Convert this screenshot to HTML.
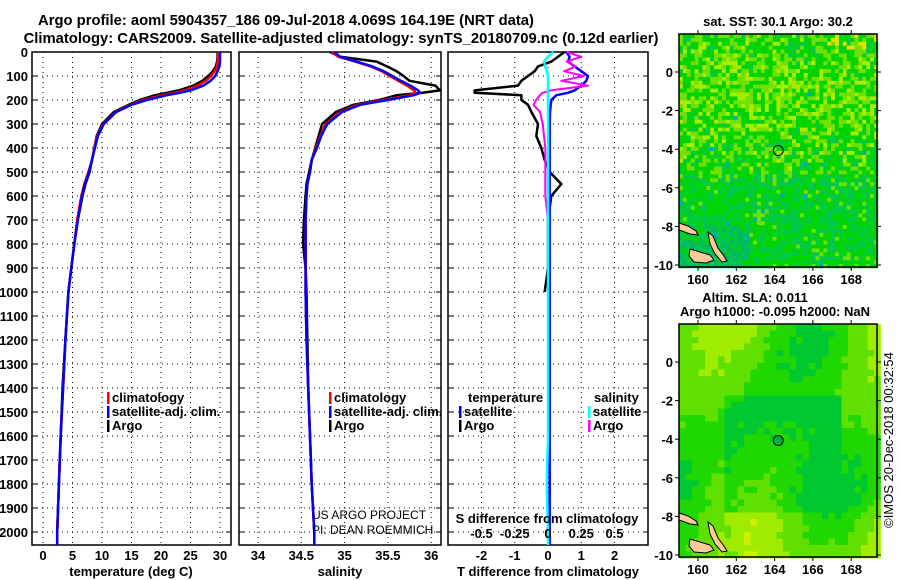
<!DOCTYPE html>
<html><head><meta charset="utf-8">
<style>
html,body{margin:0;padding:0;background:#fff;}
svg{display:block;}
text{font-family:"Liberation Sans",sans-serif;font-weight:bold;font-size:13px;fill:#000;}
</style></head>
<body>
<svg id="chart" width="900" height="580" viewBox="0 0 900 580" xmlns="http://www.w3.org/2000/svg">
<text x="286" y="25" text-anchor="middle" style="font-size:14.8px">Argo profile: aoml 5904357_186 09-Jul-2018 4.069S 164.19E (NRT data)</text>
<text x="341" y="43" text-anchor="middle" style="font-size:14.8px">Climatology: CARS2009. Satellite-adjusted climatology: synTS_20180709.nc (0.12d earlier)</text>
<g id="plots"></g>
<g id="maps"></g>
<text x="778" y="26" text-anchor="middle">sat. SST: 30.1 Argo: 30.2</text>
<text x="755" y="302" text-anchor="middle">Altim. SLA: 0.011</text>
<text x="775" y="316" text-anchor="middle">Argo h1000: -0.095 h2000: NaN</text>
<text transform="translate(893,440) rotate(-90)" text-anchor="middle" style="font-weight:normal;font-size:13px">©IMOS 20-Dec-2018 00:32:54</text>
<text x="312" y="519" style="font-weight:normal;font-size:12px">US ARGO PROJECT</text>
<text x="312" y="534" style="font-weight:normal;font-size:12px">PI: DEAN ROEMMICH</text>
</svg>
<script>
// ---- data ----
const depths = [0,20,40,60,80,100,120,140,160,170,180,200,220,250,300,350,400,450,500,550,600,700,800,900,1000,1200,1400,1600,1800,2000];
const tempArgo = [29.6,29.6,29.5,29.3,28.8,28.0,27.0,25.5,23.0,21.0,19.0,16.4,14.5,12.0,10.0,9.1,8.7,8.3,7.9,7.2,6.7,5.9,5.3,4.8,4.3,3.8,3.3,3.0,2.7,2.4];
const tempClim = [29.7,29.7,29.6,29.5,29.1,28.5,27.6,26.2,24.0,22.2,20.2,17.0,14.8,12.3,10.2,9.2,8.7,8.3,7.7,7.0,6.5,5.8,5.3,4.8,4.3,3.8,3.4,3.0,2.7,2.4];
const tempSat  = [30.0,30.0,30.0,29.9,29.6,29.2,28.4,27.2,25.0,23.2,21.0,17.6,15.0,12.4,10.3,9.3,8.8,8.3,7.8,7.1,6.6,5.9,5.3,4.8,4.3,3.8,3.4,3.0,2.7,2.4];
const salArgo = [34.83,34.95,35.37,35.49,35.6,35.68,35.75,36.05,36.1,35.9,35.6,35.4,35.1,34.9,34.74,34.7,34.66,34.62,34.59,34.56,34.55,34.53,34.52,34.55,34.56,34.57,34.58,34.6,34.62,34.65];
const salClim = [34.85,34.93,35.12,35.3,35.43,35.52,35.62,35.72,35.8,35.82,35.75,35.45,35.15,34.95,34.78,34.72,34.67,34.62,34.6,34.57,34.56,34.55,34.55,34.55,34.55,34.56,34.58,34.6,34.62,34.65];
const salSat  = [34.88,34.95,35.14,35.32,35.45,35.55,35.65,35.76,35.85,35.87,35.8,35.5,35.18,34.97,34.8,34.73,34.68,34.62,34.6,34.57,34.56,34.55,34.55,34.55,34.55,34.56,34.58,34.6,34.62,34.65];
const dTArgo = [0.5,0.3,0.1,-0.3,-0.4,-0.6,-0.8,-0.9,-2.2,-2.2,-0.8,-0.8,-0.6,-0.5,-0.3,-0.35,-0.2,-0.1,0.05,0.4,0.1,0.0,0.0,0.0,-0.1,0.0,0.0,0.0,0.0,0.0];
const dTSat  = [0.55,0.65,0.6,0.8,1.0,1.2,1.15,1.0,0.8,0.6,0.25,0.1,0.08,0.06,0.05,0.05,0.05,0.05,0.05,0.05,0.05,0.05,0.05,0.05,0.05,0.05,0.05,0.05,0.05,0.05];
const dSArgo = [0.14,0.25,0.14,0.21,0.12,0.27,0.1,0.3,0.02,-0.04,-0.06,-0.09,-0.11,-0.06,-0.04,-0.03,-0.02,-0.02,-0.02,-0.02,-0.02,0.0,0.0,0.0,0.0,0.0,0.0,0.0,0.0,0.0];
const dSSat  = [0.04,0.0,-0.03,-0.02,-0.01,0.0,0.0,0.0,0.0,0.0,0.0,0.0,0.0,0.0,0.0,0.0,0.0,0.0,0.0,0.0,0.0,0.0,0.0,0.0,0.0,0.0,0.0,0.0,-0.01,0.0];
const depthTicks = [0,100,200,300,400,500,600,700,800,900,1000,1100,1200,1300,1400,1500,1600,1700,1800,1900,2000];
const tempTicks = [0,5,10,15,20,25,30];
const salTicks = [34,34.5,35,35.5,36];
const dTTicks = [-2,-1,0,1,2];
const dSTicks = [-0.5,-0.25,0,0.25,0.5];
const dSTickLabels = ["-0.5","-0.25","0","0.25","0.5"];

const NS="http://www.w3.org/2000/svg";
function el(tag,attrs,parent){const e=document.createElementNS(NS,tag);for(const k in attrs)e.setAttribute(k,attrs[k]);parent.appendChild(e);return e;}
const plots=document.getElementById('plots');
const yTop=52, yBot=545;
const yScale=d=>yTop+d*0.24;
const panels=[
 {name:'temperature',x0:32,x1:231,sx:v=>43+5.9*v,ticks:tempTicks,labels:tempTicks.map(String),title:'temperature (deg C)',tx:131},
 {name:'salinity',x0:239,x1:441,sx:v=>258+86.6*(v-34),ticks:salTicks,labels:salTicks.map(String),title:'salinity',tx:340},
 {name:'difference',x0:448,x1:648,sx:v=>548+33.3*v,ticks:dTTicks,labels:dTTicks.map(String),title:'T difference from climatology',tx:548}
];
const sxS=v=>548+133*v;
panels.forEach((p,pi)=>{
  const g=el('g',{},plots);
  
  
  depthTicks.forEach(d=>{
    const y=yScale(d);
    const l=el('line',{x1:p.x0,x2:p.x1,y1:y,y2:y,stroke:'#000','stroke-width':1,'stroke-dasharray':'1,4'},g);
    
    
    el('line',{x1:p.x0,x2:p.x0+5,y1:y,y2:y,stroke:'#000'},g);
    el('line',{x1:p.x1-5,x2:p.x1,y1:y,y2:y,stroke:'#000'},g);
    if(pi===0){
      const t=el('text',{x:28,y:y+5,'text-anchor':'end'},g);
      t.textContent=d;
      
      
    }
  });
  p.ticks.forEach((v,i)=>{
    const x=p.sx(v);
    const l=el('line',{x1:x,x2:x,y1:yTop,y2:yBot,stroke:'#000','stroke-width':1,'stroke-dasharray':'1,4'},g);
    
    
    const t=el('text',{x:x,y:560,'text-anchor':'middle'},g);
    t.textContent=p.labels[i];
    
    
  });
  const r=el('rect',{x:p.x0,y:yTop,width:p.x1-p.x0,height:yBot-yTop,fill:'none',stroke:'#000','stroke-width':1.5},g);
  
  
  const at=el('text',{x:p.tx,y:576,'text-anchor':'middle'},g);
  at.textContent=p.title;
  
  
});
function line(vals,sx,color,name,w,maxDepth){
  const pts=[];
  depths.forEach((d,i)=>{ if(maxDepth===undefined||d<=maxDepth) pts.push(sx(vals[i]).toFixed(1)+','+yScale(d).toFixed(1)); });
  if(maxDepth===undefined) pts.push(sx(vals[vals.length-1]).toFixed(1)+','+yBot);
  const pl=el('polyline',{points:pts.join(' '),fill:'none',stroke:color,'stroke-width':w||2.5,'stroke-linejoin':'round'},plots);
  
  
}
const P=panels;
line(tempArgo,P[0].sx,'#000','temp-argo-line',2.5,2000);
line(tempClim,P[0].sx,'#f00','temp-climatology-line');
line(tempSat,P[0].sx,'#00f','temp-satellite-line');
line(salArgo,P[1].sx,'#000','sal-argo-line',2.5,2000);
line(salClim,P[1].sx,'#f00','sal-climatology-line');
line(salSat,P[1].sx,'#00f','sal-satellite-line');
line(dTArgo,P[2].sx,'#000','dT-argo-line',2.5,1000);
line(dTSat,P[2].sx,'#00f','dT-satellite-line');
line(dSArgo,sxS,'#f0f','dS-argo-line',2,700);
line(dSSat,sxS,'#0ff','dS-satellite-line');
dSTicks.forEach((v,i)=>{
  const t=el('text',{x:sxS(v),y:538,'text-anchor':'middle'},plots);
  t.textContent=dSTickLabels[i];
  
  
});
{const t=el('text',{x:547,y:523,'text-anchor':'middle'},plots);t.textContent='S difference from climatology';

}
function legend(x,y,color,label,name){
  const g=el('g',{},plots);
  
  
  el('rect',{x:x,y:y-10,width:2.5,height:12,fill:color},g);
  const t=el('text',{x:x+5,y:y},g);t.textContent=label;
}
legend(107,402,'#f00','climatology','legend-climatology');
legend(107,416,'#00f','satellite-adj. clim.','legend-satellite-adj');
legend(107,430,'#000','Argo','legend-argo');
legend(329,402,'#f00','climatology','legend-sal-climatology');
legend(329,416,'#00f','satellite-adj. clim.','legend-sal-satellite-adj');
legend(329,430,'#000','Argo','legend-sal-argo');
{const t=el('text',{x:468,y:402},plots);t.textContent='temperature';
}
{const t=el('text',{x:594,y:402},plots);t.textContent='salinity';
}
legend(459,416,'#00f','satellite','legend-t-satellite');
legend(459,430,'#000','Argo','legend-t-argo');
legend(588,416,'#0ff','satellite','legend-s-satellite');
legend(588,430,'#f0f','Argo','legend-s-argo');

// ---- maps ----
const maps=document.getElementById('maps');
function hash(i,j,s){let h=(i*374761393+j*668265263+s*982451653)|0;h=(h^(h>>>13))*1274126177|0;return ((h^(h>>>16))>>>0)/4294967296;}
function drawMap(y0,lat0y,kind,name){
  const x0=679,x1=877,y1=y0+233;
  const g=el('g',{},maps);
  
  
  const cs=kind===0?3.9:6.5;
  for(let yy=y0,j=0;yy<y1;yy+=cs,j++){
    for(let xx=x0,i=0;xx<x1;xx+=cs,i++){
      const fx=(xx-x0)/(x1-x0), fy=(yy-y0)/(y1-y0);
      let c;
      if(kind===0){
        const r=hash(i,j,1);
        let v=0.3+0.15*Math.sin(fy*6)+(r-0.5)*0.9-(fy>0.6?0.12:0);
        if(v>0.68) c='#a8ec00'; else if(v>0.42) c='#70e000'; else if(v>0.0) c='#00d400'; else c='#00c848';
        if(fy>0.82&&fx<0.35&&r>0.6) c='#00b868';
        if(fy<0.06&&fx>0.7&&r>0.85) c='#e8e000';
        if(r>0.996) c='#00a8c0';
      } else {
        let v=0.5+0.3*Math.sin(fx*7+fy*3)*Math.cos(fy*4)+0.5*Math.max(0,fy-0.7)*(fx>0.3?2:0)+0.3*Math.max(0,fx-0.8)+0.3*Math.max(0,0.1-fy)*3+(hash(i,j,2)-0.5)*0.1;
        if(fy>0.3&&fy<0.8&&fx>0.2&&fx<0.8) v-=0.25;
        if(v>0.95) c='#d0f000'; else if(v>0.72) c='#a0ec00'; else if(v>0.5) c='#60e000'; else if(v>0.3) c='#20d800'; else c='#00c830';
      }
      el('rect',{x:xx.toFixed(1),y:yy.toFixed(1),width:cs+0.3,height:cs+0.3,fill:c},g);
    }
  }
  const isl=[[[679,189],[688,192],[696,197],[698,201],[690,200],[682,197],[679,196]],
             [[708,198],[713,202],[718,214],[724,222],[727,227],[722,228],[715,220],[710,210]],
             [[690,215],[700,218],[710,221],[714,226],[706,229],[694,228],[689,222]]];
  isl.forEach(pl=>{
    const pts=pl.map(p=>p[0]+','+(p[1]+y0)).join(' ');
    const s=el('polygon',{points:pts,fill:'#ffcc99',stroke:'#000','stroke-width':1},g);
    
    
  });
  const fr=el('rect',{x:x0,y:y0,width:x1-x0,height:y1-y0,fill:'none',stroke:'#000','stroke-width':1.5},g);
  
  
  [160,162,164,166,168].forEach(lon=>{
    const x=698+19.15*(lon-160);
    el('line',{x1:x,x2:x,y1:y0-4,y2:y0,stroke:'#000'},g);
    el('line',{x1:x,x2:x,y1:y1,y2:y1+4,stroke:'#000'},g);
    const t=el('text',{x:x,y:y1+17,'text-anchor':'middle'},g);t.textContent=lon;
    
    
  });
  [0,-2,-4,-6,-8,-10].forEach(lat=>{
    const y=lat0y-19.3*lat;
    el('line',{x1:x0-4,x2:x0,y1:y,y2:y,stroke:'#000'},g);
    el('line',{x1:x1,x2:x1+4,y1:y,y2:y,stroke:'#000'},g);
    const t=el('text',{x:673,y:y+5,'text-anchor':'end'},g);t.textContent=lat;
    
    
  });
  const cx=698+19.15*4.19, cy=lat0y+19.3*4.069;
  const m=el('circle',{cx:cx,cy:cy,r:5,fill:kind===0?'none':'#00b040',stroke:'#000','stroke-width':1},g);
  
  
}
drawMap(34,72,0,'sst-map');
drawMap(324,362,1,'sla-map');
</script>
</body></html>
